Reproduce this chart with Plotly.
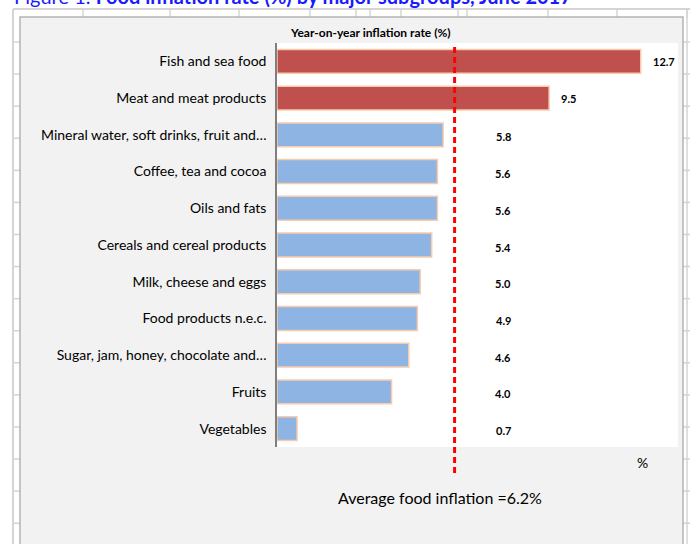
import plotly.graph_objects as go

categories = ["Fish and sea food", "Meat and meat products", "Mineral water, soft drinks, fruit and\u2026",
              "Coffee, tea and cocoa", "Oils and fats", "Cereals and cereal products",
              "Milk, cheese and eggs", "Food products n.e.c.", "Sugar, jam, honey, chocolate and\u2026",
              "Fruits", "Vegetables"]
values = [12.7, 9.5, 5.8, 5.6, 5.6, 5.4, 5.0, 4.9, 4.6, 4.0, 0.7]
average = 6.2
title_text = "Figure 1. <b>Food inflation rate (%) by major subgroups, June 2017</b>"

W, H = 690, 544
L, R, T, B = 277, 12, 43, 97
PW, PH = W - L - R, H - T - B

def px(x):
    return (x - L) / PW

def py(y):
    return 1 - (y - T) / PH

RED, BLUE = "#c0504d", "#8db4e2"
colors = [RED if v > average else BLUE for v in values]

fig = go.Figure()
fig.add_trace(go.Bar(
    x=values, y=categories, orientation="h",
    marker=dict(color=colors, line=dict(color="#f8cbad", width=1.5)),
    hoverinfo="x+y", showlegend=False,
))

shapes = []
grid = "#d4d4d4"
shapes.append(dict(type="line", xref="paper", yref="paper", x0=px(13), x1=px(13), y0=py(9), y1=py(560),
                   line=dict(color=grid, width=2), layer="below"))
shapes.append(dict(type="line", xref="paper", yref="paper", x0=px(13), x1=px(700), y0=py(9), y1=py(9),
                   line=dict(color=grid, width=2), layer="below"))
for gx in [83, 170, 239, 310, 356, 370, 401, 458, 467, 548, 617, 687]:
    shapes.append(dict(type="line", xref="paper", yref="paper", x0=px(gx), x1=px(gx), y0=py(9), y1=py(18),
                       line=dict(color=grid, width=1.5), layer="below"))
for k in range(16):
    gy = 42 + 32.08 * k
    shapes.append(dict(type="line", xref="paper", yref="paper", x0=px(13), x1=px(20), y0=py(gy), y1=py(gy),
                       line=dict(color=grid, width=1.5), layer="below"))
    shapes.append(dict(type="line", xref="paper", yref="paper", x0=px(683), x1=px(692), y0=py(gy), y1=py(gy),
                       line=dict(color=grid, width=1.5), layer="below"))
shapes.append(dict(type="line", xref="paper", yref="paper", x0=px(687), x1=px(687), y0=py(9), y1=py(560),
                   line=dict(color=grid, width=1.5), layer="below"))
shapes.append(dict(type="rect", xref="paper", yref="paper", x0=px(20), x1=px(683), y0=py(17), y1=py(560),
                   fillcolor="#f2f2f2", line=dict(color="#b4b4b4", width=1.5), layer="below"))
shapes.append(dict(type="rect", xref="paper", yref="paper", x0=0, x1=1, y0=0, y1=1,
                   fillcolor="#ffffff", line=dict(width=0), layer="below"))
shapes.append(dict(type="line", xref="x", yref="paper", x0=average, x1=average, y0=py(473), y1=1,
                   line=dict(color="#ff0000", width=3, dash="6px,4px")))

annotations = []
for c, v in zip(categories, values):
    if v > average:
        annotations.append(dict(x=v, y=c, xref="x", yref="y", text=f"<b>{v:.1f}</b>", showarrow=False,
                                xanchor="left", xshift=10, font=dict(size=11, color="#000000")))
    else:
        annotations.append(dict(x=7.9, y=c, xref="x", yref="y", text=f"<b>{v:.1f}</b>", showarrow=False,
                                xanchor="center", yshift=-2, font=dict(size=11, color="#000000")))

annotations += [
    dict(x=px(370), y=py(33), xref="paper", yref="paper", text="<b>Year-on-year inflation rate (%)</b>",
         showarrow=False, font=dict(size=12, color="#000000"), xanchor="center", yanchor="middle"),
    dict(x=px(642), y=py(462), xref="paper", yref="paper", text="%",
         showarrow=False, font=dict(size=14, color="#000000"), xanchor="center", yanchor="middle"),
    dict(x=px(440), y=py(497), xref="paper", yref="paper", text="Average food inflation =6.2%",
         showarrow=False, font=dict(size=16, color="#000000"), xanchor="center", yanchor="middle"),
    dict(x=px(12), y=py(-4), xref="paper", yref="paper", text=title_text,
         showarrow=False, font=dict(size=20, color="#1a1aff"), xanchor="left", yanchor="middle"),
]

fig.update_layout(
    width=W, height=H,
    margin=dict(l=L, r=R, t=T, b=B, autoexpand=False),
    paper_bgcolor="#ffffff", plot_bgcolor="rgba(0,0,0,0)",
    font=dict(family="Lato, sans-serif", color="#000000"),
    bargap=0.35,
    shapes=shapes, annotations=annotations,
    xaxis=dict(range=[0, 14], showgrid=False, showticklabels=False, zeroline=False, showline=False, ticks=""),
    yaxis=dict(autorange="reversed", showgrid=False, showline=True, linecolor="#7f7f7f", linewidth=1.5,
               ticks="", ticklabelstandoff=6, tickfont=dict(size=14, color="#000000")),
)

fig.write_html("out.html", config={"displayModeBar": False},
               post_script="document.body.style.margin='0';document.body.style.overflow='hidden';")
